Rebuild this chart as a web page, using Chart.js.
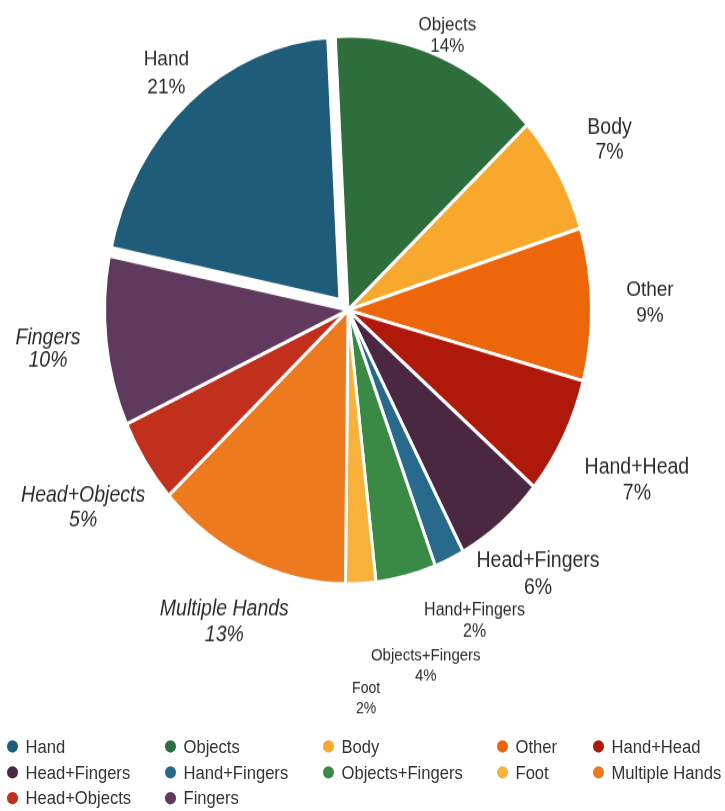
<!DOCTYPE html>
<html>
<head>
<meta charset="utf-8">
<title>Contact type distribution</title>
<script src="https://cdn.jsdelivr.net/npm/chart.js@4/dist/chart.umd.min.js"></script>
<style>
  html { overflow: hidden; }
  body { margin: 0; padding: 0; background: #fff; width: 725px; height: 811px; }
  /* the figure is laid out at 725x721 and stretched to fill the 811px window */
  #wrap {
    position: relative;
    width: 725px;
    height: 721px;
    transform: scaleY(1.125);
    transform-origin: 0 0;
    font-family: "Liberation Sans", Arial, Helvetica, sans-serif;
  }
  #pie { position: absolute; left: 0; top: 0; }
  #legend {
    position: absolute;
    left: 6.5px;
    top: 652px;
    display: grid;
    grid-template-columns: 158px 158px 174px 96px 124px;
    grid-auto-rows: 23px;
    font-size: 16.6px;
    color: #333;
  }
  #legend .item { display: flex; align-items: center; white-space: nowrap; }
  #legend .dot { width: 11px; height: 11px; border-radius: 50%; margin-right: 8px; flex: none; }
</style>
</head>
<body>
<div id="wrap">
  <canvas id="pie" width="725" height="640"></canvas>
  <div id="legend"></div>
</div>
<script>
// 類別與比例 (%)
const categories = [
  'Hand', 'Objects', 'Body', 'Other', 'Hand+Head', 'Head+Fingers',
  'Hand+Fingers', 'Objects+Fingers', 'Foot', 'Multiple Hands', 'Head+Objects', 'Fingers'
];
const shares = [21, 14, 7, 9, 7, 6, 2, 4, 2, 13, 5, 10];

// 配色
const sliceColors = [
  '#1e5c7a', '#2d6e3c', '#f7a82d', '#ee660a', '#af190a', '#4b2841',
  '#28698c', '#3a8a46', '#f8b23c', '#ee7a20', '#c0301c', '#5f3a5e'
];

// 標籤樣式: 距圓心距離, 字級, 行距, 是否斜體
const labelDist   = [278, 263, 302, 302, 326, 302, 304, 326, 346, 304, 318, 302];
const labelSize   = [19, 17, 19.5, 19, 19.5, 19.5, 16, 15, 14, 19.5, 19.5, 19.5];
const labelLead   = [24.5, 19, 22, 23, 23, 24, 19.5, 18, 18, 23.5, 22.5, 20];
const labelItalic = [false, false, false, false, false, false, false, false, false, true, true, true];

// Hand ends just left of 12 o'clock
const rotation = -shares[0] * 3.6 - 3;

// 圖例 (五欄)
const legendEl = document.getElementById('legend');
categories.forEach((name, i) => {
  const item = document.createElement('div');
  item.className = 'item';
  const dot = document.createElement('span');
  dot.className = 'dot';
  dot.style.background = sliceColors[i];
  item.appendChild(dot);
  item.appendChild(document.createTextNode(name));
  legendEl.appendChild(item);
});

const sliceLabels = {
  id: 'sliceLabels',
  afterDatasetsDraw(chart) {
    const { ctx } = chart;
    const arcs = chart.getDatasetMeta(0).data;
    ctx.save();
    ctx.fillStyle = '#2b2b2b';
    ctx.textAlign = 'center';
    ctx.textBaseline = 'middle';
    arcs.forEach((arc, i) => {
      const mid = (arc.startAngle + arc.endAngle) / 2;
      const cx = arc.x + Math.cos(mid) * labelDist[i];
      const cy = arc.y + Math.sin(mid) * labelDist[i];
      ctx.font = `${labelItalic[i] ? 'italic ' : ''}${labelSize[i]}px "Liberation Sans", Arial, sans-serif`;
      ctx.fillText(categories[i], cx, cy - labelLead[i] / 2);
      ctx.fillText(shares[i] + '%', cx, cy + labelLead[i] / 2);
    });
    ctx.restore();
  }
};

new Chart(document.getElementById('pie'), {
  type: 'pie',
  data: {
    labels: categories,
    datasets: [{
      data: shares,
      backgroundColor: sliceColors,
      borderColor: '#ffffff',
      borderWidth: c => c.dataIndex === 0 ? 12 : 3,
      offset: c => c.dataIndex === 0 ? 20 : 0
    }]
  },
  options: {
    responsive: false,
    animation: false,
    radius: 243.5,
    rotation: rotation,
    layout: { padding: { left: 0, right: 29, top: 0, bottom: 88.8 } },
    events: [],
    plugins: {
      legend: { display: false },
      tooltip: { enabled: false }
    }
  },
  plugins: [sliceLabels]
});
</script>
</body>
</html>
